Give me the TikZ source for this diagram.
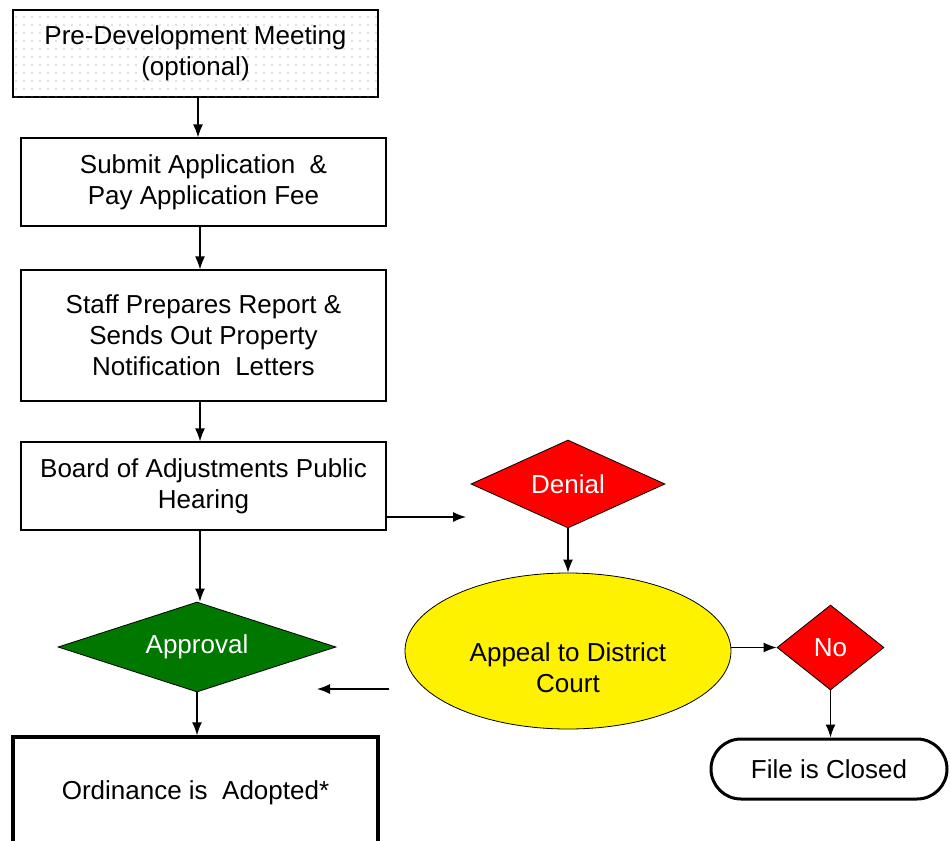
\documentclass[tikz,border=0pt]{standalone}
\usepackage{fontspec}
\setmainfont{Liberation Sans}
\usepackage{tikz}
\usetikzlibrary{shapes.geometric}
\usetikzlibrary{arrows.meta}
\usetikzlibrary{patterns.meta}
\usetikzlibrary{positioning}

\definecolor{okgreen}{RGB}{0,120,0}
\newcommand{\flowfont}{\fontsize{26}{31}\selectfont}

\tikzset{
  stepbox/.style={draw, line width=1.2pt, minimum width=365pt, inner sep=0pt, align=center, font=\flowfont},
  decision/.style={diamond, draw, line width=0.8pt, inner sep=0pt, align=center, font=\flowfont, text=white},
  flowarrow/.style={-{Latex[length=13pt,width=10pt]}, line width=1.2pt}
}

\begin{document}
\begin{tikzpicture}[x=1pt, y=-1pt]
\path[use as bounding box, clip] (0,0) rectangle (951,841);

\node [stepbox, minimum height=87pt, fill=white, postaction={pattern={Dots[distance=8pt, radius=0.7pt]}, pattern color=gray}] (pre) at (195.5,53.5) {Pre-Development Meeting\\(optional)};
\node [stepbox, minimum height=88pt] (submit) at (203.5,182) {Submit Application \ \&\\Pay Application Fee};
\node [stepbox, minimum height=131pt] (staff) at (203.5,335.5) {Staff Prepares Report \&\\Sends Out Property\\Notification \ Letters};
\node [stepbox, minimum height=88pt] (board) at (203.5,486) {Board of Adjustments Public\\Hearing};

\node [decision, fill=red, aspect=2.2, minimum width=194pt, minimum height=88pt] (denial) at (568,484) {Denial};
\node [ellipse, draw, line width=0.8pt, fill=yellow, minimum width=326pt, minimum height=156pt, align=center, font=\flowfont, text height=84pt] (appeal) at (568,651) {Appeal to District\\Court};
\node [decision, fill=red, aspect=1.26, minimum width=107pt, minimum height=85pt] (no) at (830.5,647.5) {No};
\node [draw, line width=3pt, rounded corners=30pt, minimum width=236pt, minimum height=60pt, font=\flowfont] (closed) at (829,769) {File is Closed};

\node [decision, fill=okgreen, aspect=3.09, minimum width=278pt, minimum height=90pt] (approval) at (197,647) {Approval};
\node [stepbox, line width=3.5pt, minimum height=112pt] (ordinance) at (195.5,793) {Ordinance is \ Adopted*};

\coordinate (denin) at (466,517);
\coordinate (backfrom) at (389,689);
\coordinate (backto) at (317,689);

% main column
\draw [flowarrow] (pre.south -| 198,0) -- (submit.north -| 198,0);
\draw [flowarrow] (submit.south -| 200,0) -- (staff.north -| 200,0);
\draw [flowarrow] (staff.south -| 200,0) -- (board.north -| 200,0);
\draw [flowarrow] (board.south -| 200,0) -- (approval.north -| 200,0);
\draw [flowarrow] (approval.south) -- (ordinance.north -| approval.south);

% denial branch
\draw [flowarrow] (board.east |- denin) -- (denin);
\draw [flowarrow] (denial.south) -- (appeal.north);
\draw [flowarrow] (appeal.east |- no.west) -- (no.west);
\draw [flowarrow] (no.south) -- (closed.north -| no.south);
\draw [flowarrow] (backfrom) -- (backto);

\end{tikzpicture}
\end{document}
